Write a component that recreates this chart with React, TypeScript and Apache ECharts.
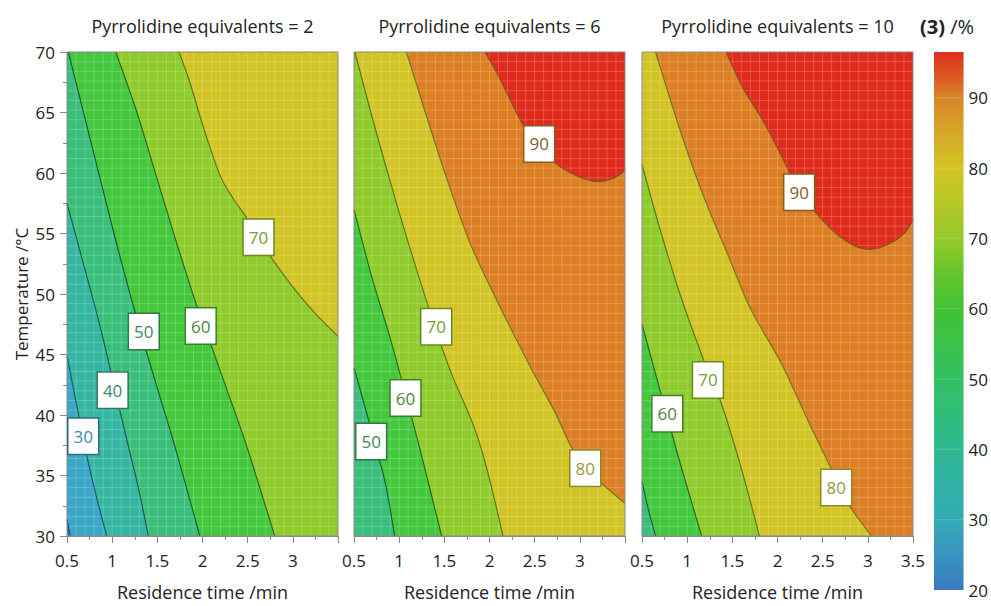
import React, { useEffect, useRef } from "react";
import * as echarts from "echarts";

const FONT = "'Open Sans', 'Noto Sans', sans-serif";

const X_MIN = 0.5;
const X_MAX = 3.5;
const T_MIN = 30;
const T_MAX = 70;

const PANEL_TITLES = [
  "Pyrrolidine equivalents = 2",
  "Pyrrolidine equivalents = 6",
  "Pyrrolidine equivalents = 10",
];

// band lower bounds and their fill colours
const BAND_LEVELS = [10, 20, 30, 40, 50, 60, 70, 80, 90];
const BAND_COLORS = ["#2f7fc1", "#3ba7c7", "#35b6a2", "#39bf7a", "#43c73c", "#8fcb2b", "#d3c426", "#dc7e23", "#df2a1c"];
const LINE_COLORS = ["#1f3f8f", "#1f3f8f", "#1f5a70", "#1f5c52", "#1f5e36", "#2d6a1e", "#5a7a18", "#7a7418", "#80561a"];
const LABEL_TEXT = ["#3a7aaa", "#3a7aaa", "#3a8e9e", "#3a8a72", "#3a8a55", "#4a8a3a", "#7a9a30", "#9a9a3a", "#8a5a2a"];
const LABEL_BORDER = ["#2a5a8a", "#2a5a8a", "#2e6e7e", "#2f7a5e", "#2e7a40", "#3a802a", "#6a8a1e", "#8a8a1e", "#8a5a1e"];

// contour lines [residence time, temperature]
const P1_20 = [[0.5, 31.4], [0.535, 30]];
const P1_30 = [[0.5, 44.9], [0.61, 40.7], [0.72, 36.6], [0.83, 33.1], [0.94, 30]];
const P1_40 = [[0.5, 57.5], [0.7, 52.0], [0.87, 47.2], [1.01, 42.8], [1.16, 38.0], [1.29, 34.0], [1.4, 30]];
const P1_50 = [[0.515, 70], [0.77, 62.4], [1.02, 55.0], [1.22, 49.4], [1.46, 43.2], [1.71, 37.0], [1.97, 30]];
const P1_60 = [[1.04, 70], [1.27, 65.1], [1.49, 59.7], [1.71, 54.3], [1.92, 49.4], [2.08, 46.1], [2.27, 42.1], [2.49, 37.4], [2.8, 30]];
const P1_70 = [[1.74, 70], [1.86, 67.5], [1.96, 65.0], [2.07, 62.4], [2.2, 59.7], [2.33, 58.0], [2.47, 56.5], [2.62, 54.7], [2.78, 52.8], [3.04, 50.2], [3.26, 48.3], [3.5, 46.5]];

const P2_50 = [[0.5, 43.9], [0.62, 40.7], [0.77, 36.6], [0.86, 33.9], [0.95, 30]];
const P2_60 = [[0.5, 57.0], [0.69, 51.6], [0.91, 46.1], [1.08, 41.4], [1.25, 36.6], [1.47, 30]];
const P2_70 = [[0.51, 70], [0.73, 63.8], [0.99, 57.0], [1.21, 51.6], [1.4, 47.2], [1.58, 43.4], [1.83, 39.0], [1.98, 35.3], [2.15, 30]];
const P2_80 = [[1.08, 70], [1.29, 65], [1.52, 59.7], [1.78, 54.3], [2.06, 49.8], [2.43, 44.3], [2.72, 40.3], [2.91, 37.3], [3.08, 35.6], [3.25, 34.3], [3.5, 32.7]];
const P2_90 = [[1.95, 70], [2.08, 68.3], [2.2, 66.5], [2.37, 64.0], [2.56, 62.0], [2.7, 61.0], [2.85, 60.2], [3.02, 59.6], [3.2, 59.3], [3.38, 59.6], [3.5, 60.2]];

const P3_50 = [[0.5, 34.5], [0.57, 32.2], [0.65, 30]];
const P3_60 = [[0.5, 47.5], [0.65, 43.4], [0.8, 39.3], [0.95, 35.3], [1.16, 30]];
const P3_70 = [[0.5, 60.7], [0.69, 55.6], [0.92, 50.0], [1.17, 44.8], [1.39, 40.7], [1.61, 35.3], [1.8, 30]];
const P3_80 = [[0.65, 70], [0.91, 63.8], [1.17, 58.3], [1.47, 52.9], [1.7, 48.8], [2.04, 44.3], [2.34, 39.5], [2.52, 36.7], [2.66, 34.6], [2.78, 32.7], [2.92, 31.2], [3.04, 30]];
const P3_90 = [[1.43, 70], [1.62, 67.0], [1.85, 64.2], [2.05, 61.3], [2.25, 58.4], [2.45, 56.5], [2.65, 55.0], [2.85, 54.0], [3.04, 53.7], [3.25, 54.2], [3.4, 55.0], [3.5, 56.1]];

const PANEL1_LEVELS = [20, 30, 40, 50, 60, 70];
const PANEL1_LINES = [P1_20, P1_30, P1_40, P1_50, P1_60, P1_70];
const PANEL2_LEVELS = [50, 60, 70, 80, 90];
const PANEL2_LINES = [P2_50, P2_60, P2_70, P2_80, P2_90];
const PANEL3_LEVELS = [50, 60, 70, 80, 90];
const PANEL3_LINES = [P3_50, P3_60, P3_70, P3_80, P3_90];

// contour labels [x, T, level]
const P1_LABELS = [[2.62, 54.7, 70], [1.98, 47.35, 60], [1.35, 46.9, 50], [1.005, 42.05, 40], [0.68, 38.25, 30]];
const P2_LABELS = [[2.55, 62.4, 90], [3.06, 35.6, 80], [1.41, 47.3, 70], [1.07, 41.4, 60], [0.69, 37.8, 50]];
const P3_LABELS = [[2.24, 58.4, 90], [2.65, 34.0, 80], [1.23, 42.9, 70], [0.78, 40.1, 60]];

// colour bar
const CB_MIN = 20;
const CB_MAX = 96.5;
const CB_VALUES = [20, 25, 30, 35, 40, 45, 50, 55, 60, 65, 70, 75, 80, 85, 90, 93, 96.5];
const CB_COLORS = ["#3a79be", "#3994c0", "#33aab5", "#30b2a4", "#2fb98f", "#30bd7a", "#33c063", "#3ac24a", "#42c232", "#66c52d", "#94c92a", "#b7c727", "#d2c425", "#d6a727", "#d8862a", "#db5a24", "#dd2e1e"];
const CB_TICKS = [30, 40, 50, 60, 70, 80, 90];

const idxOf = (level: number) => BAND_LEVELS.indexOf(level);

// smooth curve through the contour points (Catmull-Rom drawn as cubic Béziers),
// optionally closed through extra corner points
const SmoothContour = echarts.graphic.extendShape({
  type: "smoothContour",
  shape: { points: [] as number[][], corners: [] as number[][], closed: false },
  buildPath(ctx: any, shape: any) {
    const pts = shape.points;
    if (!pts || pts.length < 2) return;
    ctx.moveTo(pts[0][0], pts[0][1]);
    for (let i = 0; i < pts.length - 1; i++) {
      const p0 = pts[i - 1] || pts[i];
      const p1 = pts[i];
      const p2 = pts[i + 1];
      const p3 = pts[i + 2] || pts[i + 1];
      ctx.bezierCurveTo(
        p1[0] + (p2[0] - p0[0]) / 6,
        p1[1] + (p2[1] - p0[1]) / 6,
        p2[0] - (p3[0] - p1[0]) / 6,
        p2[1] - (p3[1] - p1[1]) / 6,
        p2[0],
        p2[1]
      );
    }
    (shape.corners || []).forEach((c: number[]) => ctx.lineTo(c[0], c[1]));
    if (shape.closed) ctx.closePath();
  },
});
echarts.graphic.registerShape("smoothContour", SmoothContour);

function panelRenderer(levels: number[], lines: number[][][]) {
  return (_params: any, api: any) => {
    const c = (x: number, y: number) => api.coord([x, y]);
    const children: any[] = [];
    const tl = c(X_MIN, T_MAX);
    const br = c(X_MAX, T_MIN);
    const rect = { x: tl[0], y: tl[1], width: br[0] - tl[0], height: br[1] - tl[1] };
    children.push({ type: "rect", shape: rect, style: { fill: BAND_COLORS[idxOf(levels[0]) - 1] } });
    lines.forEach((pts, k) => {
      const first = pts[0];
      const last = pts[pts.length - 1];
      const corners: number[][] = [];
      if (last[1] <= T_MIN) corners.push(c(X_MAX, T_MIN));
      corners.push(c(X_MAX, T_MAX));
      if (first[0] <= X_MIN && first[1] < T_MAX) corners.push(c(X_MIN, T_MAX));
      children.push({
        type: "smoothContour",
        shape: { points: pts.map((p) => c(p[0], p[1])), corners, closed: true },
        style: { fill: BAND_COLORS[idxOf(levels[k])], stroke: null },
      });
    });
    for (let i = 1; i < 30; i++) {
      const x = X_MIN + i * 0.1;
      const a = c(x, T_MIN);
      const b = c(x, T_MAX);
      children.push({ type: "line", shape: { x1: a[0], y1: a[1], x2: b[0], y2: b[1] }, style: { stroke: "rgba(255,255,255,0.2)", lineWidth: 1 } });
    }
    for (let j = 1; j < 50; j++) {
      const y = T_MIN + j * 0.8;
      const a = c(X_MIN, y);
      const b = c(X_MAX, y);
      children.push({ type: "line", shape: { x1: a[0], y1: a[1], x2: b[0], y2: b[1] }, style: { stroke: "rgba(255,255,255,0.2)", lineWidth: 1 } });
    }
    lines.forEach((pts, k) => {
      children.push({
        type: "smoothContour",
        shape: { points: pts.map((p) => c(p[0], p[1])), corners: [], closed: false },
        style: { stroke: LINE_COLORS[idxOf(levels[k])], lineWidth: 1.2, fill: null },
      });
    });
    children.push({ type: "rect", shape: rect, style: { fill: null, stroke: "#8a8a8a", lineWidth: 1 } });
    return { type: "group", children };
  };
}

function colorbarRenderer(_params: any, api: any) {
  const a = api.coord([0, CB_MIN]);
  const b = api.coord([1, CB_MAX]);
  const stops = CB_VALUES.map((v, i) => ({ offset: (v - CB_MIN) / (CB_MAX - CB_MIN), color: CB_COLORS[i] }));
  const children: any[] = [
    {
      type: "rect",
      shape: { x: a[0], y: b[1], width: b[0] - a[0], height: a[1] - b[1] },
      style: { fill: new echarts.graphic.LinearGradient(0, 1, 0, 0, stops) },
    },
  ];
  CB_TICKS.forEach((v) => {
    const p = api.coord([0, v]);
    const q = api.coord([1, v]);
    children.push({ type: "line", shape: { x1: p[0], y1: p[1], x2: q[0], y2: q[1] }, style: { stroke: "rgba(255,255,255,0.18)", lineWidth: 1 } });
  });
  return { type: "group", children };
}

const GRIDS = [
  { left: 67, top: 52, width: 271, height: 491 },
  { left: 354, top: 52, width: 271, height: 491 },
  { left: 642, top: 52, width: 271, height: 491 },
  { left: 934, top: 52, width: 30, height: 538 },
];

function buildOption(): any {
  const tickColor = "#8a8a8a";
  const xAxes: any[] = [0, 1, 2].map((p) => ({
    gridIndex: p,
    type: "value",
    min: X_MIN,
    max: X_MAX,
    interval: 0.5,
    axisLine: { show: true, lineStyle: { color: tickColor } },
    axisTick: { show: true, length: 7, lineStyle: { color: tickColor } },
    minorTick: { show: true, splitNumber: 2, length: 4, lineStyle: { color: tickColor } },
    splitLine: { show: false },
    axisLabel: { fontSize: 17, color: "#222", margin: 16, fontFamily: FONT, showMaxLabel: p === 2 },
    name: "Residence time /min",
    nameLocation: "middle",
    nameGap: 47,
    nameTextStyle: { fontSize: 18, color: "#222", fontFamily: FONT },
  }));
  xAxes.push({ gridIndex: 3, type: "value", min: 0, max: 1, show: false });
  const yAxes: any[] = [0, 1, 2].map((p) => ({
    gridIndex: p,
    type: "value",
    min: T_MIN,
    max: T_MAX,
    interval: 5,
    show: p === 0,
    axisLine: { show: true, lineStyle: { color: tickColor } },
    axisTick: { show: true, length: 7, lineStyle: { color: tickColor } },
    minorTick: { show: true, splitNumber: 2, length: 4, lineStyle: { color: tickColor } },
    splitLine: { show: false },
    axisLabel: { fontSize: 17, color: "#222", margin: 12, fontFamily: FONT },
    name: "Temperature /°C",
    nameLocation: "middle",
    nameGap: 37,
    nameTextStyle: { fontSize: 17, color: "#222", fontFamily: FONT },
  }));
  yAxes.push({
    gridIndex: 3,
    type: "value",
    min: CB_MIN,
    max: CB_MAX,
    interval: 10,
    position: "right",
    axisLine: { show: false },
    axisTick: { show: false },
    splitLine: { show: false },
    axisLabel: { fontSize: 17, color: "#222", margin: 5, fontFamily: FONT, showMaxLabel: false },
  });

  const panels = [
    { levels: PANEL1_LEVELS, lines: PANEL1_LINES, labels: P1_LABELS },
    { levels: PANEL2_LEVELS, lines: PANEL2_LINES, labels: P2_LABELS },
    { levels: PANEL3_LEVELS, lines: PANEL3_LINES, labels: P3_LABELS },
  ];
  const series: any[] = [];
  panels.forEach((pn, p) => {
    series.push({
      type: "custom",
      xAxisIndex: p,
      yAxisIndex: p,
      data: [[2, 50]],
      renderItem: panelRenderer(pn.levels, pn.lines),
      silent: true,
      z: 2,
    });
    series.push({
      type: "scatter",
      xAxisIndex: p,
      yAxisIndex: p,
      symbol: "circle",
      symbolSize: 1,
      itemStyle: { color: "rgba(0,0,0,0)", opacity: 1 },
      silent: true,
      z: 5,
      data: pn.labels.map((l) => {
        const k = idxOf(l[2]);
        return {
          value: [l[0], l[1]],
          label: {
            show: true,
            position: "inside",
            formatter: String(l[2]),
            fontSize: 17,
            fontFamily: FONT,
            color: LABEL_TEXT[k],
            backgroundColor: "#ffffff",
            borderColor: LABEL_BORDER[k],
            borderWidth: 1.5,
            lineHeight: 18,
            padding: [9, 5, 8, 5],
            opacity: 1,
          },
        };
      }),
    });
  });
  series.push({
    type: "custom",
    xAxisIndex: 3,
    yAxisIndex: 3,
    data: [[0.5, 50]],
    renderItem: colorbarRenderer,
    silent: true,
  });

  const graphic: any[] = PANEL_TITLES.map((t, p) => ({
    type: "text",
    x: GRIDS[p].left + GRIDS[p].width / 2,
    y: 26,
    style: { text: t, textAlign: "center", textVerticalAlign: "middle", fontSize: 18, fontFamily: FONT, fill: "#222" },
  }));
  graphic.push({
    type: "text",
    x: 947,
    y: 26,
    style: {
      text: "{b|(3)} /%",
      textAlign: "center",
      textVerticalAlign: "middle",
      fontSize: 20,
      fontFamily: FONT,
      fill: "#222",
      rich: { b: { fontWeight: "bold", fontSize: 20, fontFamily: FONT, fill: "#222" } },
    },
  });

  return {
    animation: false,
    backgroundColor: "#ffffff",
    grid: GRIDS.map((g) => ({ ...g, containLabel: false })),
    xAxis: xAxes,
    yAxis: yAxes,
    series,
    graphic,
  };
}

export default function App() {
  const ref = useRef<HTMLDivElement>(null);
  useEffect(() => {
    const chart = echarts.init(ref.current!, null, { renderer: "svg" });
    chart.setOption(buildOption());
    return () => chart.dispose();
  }, []);
  return <div ref={ref} style={{ position: "fixed", left: 0, top: 0, width: 991, height: 606 }} />;
}
